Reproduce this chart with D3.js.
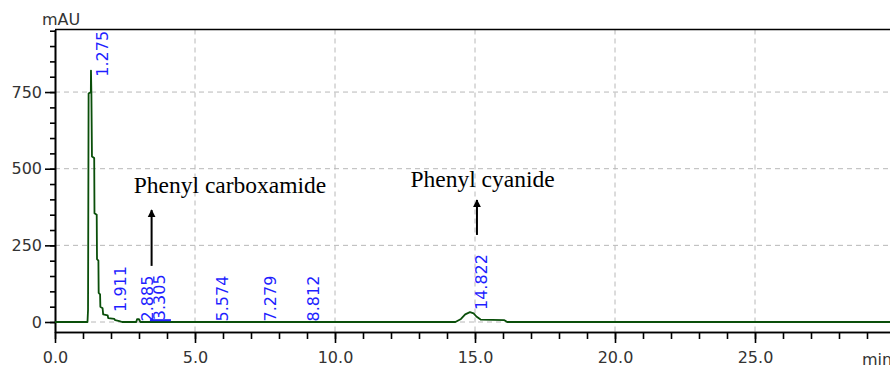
<!DOCTYPE html>
<html>
  <head>
    <meta charset="UTF-8">
    <title>Chromatogram</title>
    <style>
      body { margin: 0; background: #fff; }
      .tick text { font-family: "DejaVu Sans", sans-serif; font-size: 16px; fill: #333; }
      .axis path, .axis line { stroke: #000; stroke-width: 1.6; }
      .grid line { stroke: #b8b8b8; stroke-width: 1; stroke-dasharray: 5,4; }
      .trace { fill: none; stroke: #0a4f0a; stroke-width: 1.8; stroke-linejoin: round; }
      .peak-label { font-family: "DejaVu Sans", sans-serif; font-size: 16px; fill: #1f1fff; }
      .note { font-family: "Liberation Serif", "Times New Roman", serif; font-size: 23.5px; fill: #000; }
    </style>
    <script src="https://d3js.org/d3.v7.min.js"></script>
  </head>
  <body>
    <div id="chart"></div>
<script>
  // trace (time in min, signal in mAU)
  var traceTimes  = [0, 1.16, 1.18, 1.20, 1.28, 1.285, 1.30, 1.32, 1.40, 1.41, 1.49, 1.50, 1.55, 1.56, 1.61, 1.62, 1.70, 1.72, 1.88, 1.90, 2.12, 2.15, 2.30, 2.40, 2.90, 2.93, 3.00, 3.05, 14.30, 14.50, 14.65, 14.82, 14.95, 15.05, 15.20, 16.05, 16.15, 30];
  var traceValues = [0, 0,    40,   745,  750,  820,   745,  540,  535,  355,  350,  205,  200,  95,   90,   50,   45,   25,   22,   13,   10,   6,    3,    0,    0,    9,    9,    0,    0,     10,    25,    32,    28,    18,    8,     6,     0,     0];

  var peakTimes   = [1.275, 1.911, 2.885, 3.305, 5.574, 7.279, 8.812, 14.822];
  var peakHeights = [800, 33, 2, 6, 2, 2, 2, 39];

  // integration baseline drawn in blue under 3.305
  var baselineSeg = [[3.39, 6], [4.14, 6]];

  var notes = [
    {text: "Phenyl carboxamide", t: 6.25, v: 421, arrowT: 3.45, from: 183, to: 365},
    {text: "Phenyl cyanide", t: 15.27, v: 439, arrowT: 15.07, from: 284, to: 398}
  ];

  var xMajor = [0, 5, 10, 15, 20, 25];
  var yMajor = [0, 250, 500, 750];

  var width = 890, height = 369;
  var svg = d3.select("#chart").append("svg")
      .attr("width", width)
      .attr("height", height);

  var x = d3.scaleLinear().domain([0, 30]).range([55, 895]);
  var y = d3.scaleLinear().domain([-32.6, 954]).range([332, 29.5]);

  svg.append("defs").append("marker")
      .attr("id", "arrow")
      .attr("viewBox", "0 0 10 10")
      .attr("refX", 9).attr("refY", 5)
      .attr("markerWidth", 4).attr("markerHeight", 5)
      .attr("markerUnits", "strokeWidth")
      .attr("orient", "auto")
    .append("path")
      .attr("d", "M0,0 L10,5 L0,10 Z")
      .attr("fill", "#000");

  // dashed grid
  var grid = svg.append("g").attr("class", "grid");
  grid.selectAll(".gx").data(xMajor.slice(1)).enter().append("line")
      .attr("x1", d => x(d)).attr("x2", d => x(d))
      .attr("y1", y.range()[1]).attr("y2", y.range()[0]);
  grid.selectAll(".gy").data(yMajor).enter().append("line")
      .attr("x1", 55).attr("x2", width)
      .attr("y1", d => y(d)).attr("y2", d => y(d));

  // axes
  svg.append("g")
      .attr("class", "axis")
      .attr("transform", "translate(0," + y.range()[0] + ")")
      .call(d3.axisBottom(x).tickValues(d3.range(0, 30, 1)).tickSize(7).tickSizeOuter(0).tickFormat(""));
  svg.append("g")
      .attr("class", "axis")
      .attr("transform", "translate(0," + y.range()[0] + ")")
      .call(d3.axisBottom(x).tickValues(xMajor).tickSize(11).tickSizeOuter(0).tickPadding(9).tickFormat(d3.format(".1f")));

  svg.append("g")
      .attr("class", "axis")
      .attr("transform", "translate(55,0)")
      .call(d3.axisLeft(y).tickValues(d3.range(0, 951, 50)).tickSize(5).tickSizeOuter(0).tickFormat(""));
  svg.append("g")
      .attr("class", "axis")
      .attr("transform", "translate(55,0)")
      .call(d3.axisLeft(y).tickValues(yMajor).tickSize(10).tickSizeOuter(0).tickPadding(3));

  // top frame
  svg.append("line")
      .attr("x1", 55).attr("x2", width)
      .attr("y1", y.range()[1]).attr("y2", y.range()[1])
      .attr("stroke", "#000").attr("stroke-width", 1.6);

  svg.append("text")
      .attr("x", 42).attr("y", 25)
      .attr("font-family", "DejaVu Sans, sans-serif")
      .attr("font-size", 16).attr("fill", "#333")
      .text("mAU");
  // cut at the right edge, as in the original
  svg.append("text")
      .attr("x", 862).attr("y", 365)
      .attr("font-family", "DejaVu Sans, sans-serif")
      .attr("font-size", 16).attr("fill", "#333")
      .text("min");

  // signal
  var line = d3.line()
      .x((d, i) => x(traceTimes[i]))
      .y(d => y(d));
  svg.append("path")
      .datum(traceValues)
      .attr("class", "trace")
      .attr("d", line);

  svg.append("line")
      .attr("x1", x(baselineSeg[0][0])).attr("x2", x(baselineSeg[1][0]))
      .attr("y1", y(baselineSeg[0][1])).attr("y2", y(baselineSeg[1][1]))
      .attr("stroke", "#1f1fff").attr("stroke-width", 2);

  // retention time labels
  svg.selectAll(".peak-label")
      .data(peakTimes)
      .enter().append("text")
      .attr("class", "peak-label")
      .attr("transform", (d, i) => "translate(" + (x(d) + 17) + "," + y(peakHeights[i]) + ") rotate(-90)")
      .text(d => d3.format(".3f")(d));

  // annotations
  notes.forEach(function(n) {
    svg.append("text")
        .attr("class", "note")
        .attr("x", x(n.t)).attr("y", y(n.v))
        .attr("text-anchor", "middle")
        .text(n.text);
    svg.append("line")
        .attr("x1", x(n.arrowT)).attr("x2", x(n.arrowT))
        .attr("y1", y(n.from)).attr("y2", y(n.to))
        .attr("stroke", "#000").attr("stroke-width", 2)
        .attr("marker-end", "url(#arrow)");
  });
</script>
  </body>
</html>
